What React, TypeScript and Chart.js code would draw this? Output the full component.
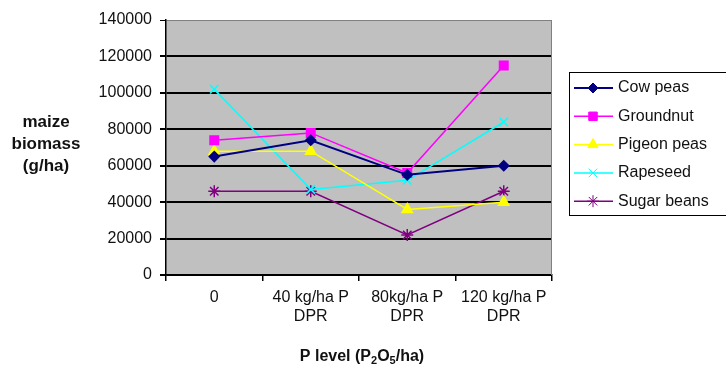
import React, { useEffect, useRef } from "react";
import { Chart, registerables } from "chart.js";
import { drawPoint } from "chart.js/helpers";

Chart.register(...registerables);

const categories: (string | string[])[] = ["0", ["40 kg/ha P", "DPR"], ["80kg/ha P", "DPR"], ["120 kg/ha P", "DPR"]];
const cowPeas = [65000, 74000, 55000, 60000];
const groundnut = [74000, 78000, 56000, 115000];
const pigeonPeas = [68000, 68000, 36000, 40000];
const rapeseed = [102000, 47000, 52000, 84000];
const sugarBeans = [46000, 46000, 22000, 46000];
const yTicks = [0, 20000, 40000, 60000, 80000, 100000, 120000, 140000];
const yTitleLines = ["maize", "biomass", "(g/ha)"];

const FONT = "'Liberation Sans', Arial, sans-serif";

const chartPlugin = {
  id: "decor",
  beforeDraw(chart: any) {
    const { ctx, chartArea: a } = chart;
    ctx.save();
    ctx.fillStyle = "#c0c0c0";
    ctx.fillRect(a.left, a.top, a.right - a.left, a.bottom - a.top);
    ctx.restore();
  },
  afterDraw(chart: any) {
    const { ctx, chartArea: a } = chart;
    ctx.save();
    // right plot border
    ctx.strokeStyle = "#808080";
    ctx.lineWidth = 1;
    ctx.beginPath();
    ctx.moveTo(a.right - 0.5, a.top);
    ctx.lineTo(a.right - 0.5, a.bottom);
    ctx.stroke();

    // y title
    ctx.fillStyle = "#111";
    ctx.font = `bold 17px ${FONT}`;
    ctx.textAlign = "center";
    ctx.textBaseline = "middle";
    yTitleLines.forEach((l, i) => ctx.fillText(l, 46, 122 + i * 22));

    // x title with subscripts
    const parts: [string, boolean][] = [["P level (P", false], ["2", true], ["O", false], ["5", true], ["/ha)", false]];
    const big = `bold 16px ${FONT}`;
    const small = `bold 11px ${FONT}`;
    let total = 0;
    parts.forEach(([t, s]) => { ctx.font = s ? small : big; total += ctx.measureText(t).width; });
    let x = 362 - total / 2;
    ctx.textAlign = "left";
    ctx.textBaseline = "alphabetic";
    parts.forEach(([t, s]) => {
      ctx.font = s ? small : big;
      ctx.fillText(t, x, s ? 364 : 361);
      x += ctx.measureText(t).width;
    });

    // legend
    const lx = 569.5, ly = 72.5;
    ctx.fillStyle = "#fff";
    ctx.fillRect(lx, ly, 200, 143);
    ctx.strokeStyle = "#000";
    ctx.lineWidth = 1;
    ctx.strokeRect(lx, ly, 200, 143);
    chart.data.datasets.forEach((ds: any, i: number) => {
      const y = 88 + i * 28.3;
      ctx.strokeStyle = ds.borderColor;
      ctx.lineWidth = ds.borderWidth;
      ctx.beginPath();
      ctx.moveTo(574, y);
      ctx.lineTo(613, y);
      ctx.stroke();
      ctx.fillStyle = ds.pointBackgroundColor;
      ctx.strokeStyle = ds.pointBorderColor;
      ctx.lineWidth = 1;
      drawPoint(ctx, { pointStyle: ds.pointStyle, radius: ds.pointRadius, rotation: 0, borderWidth: 1.5 } as any, 593, y);
      ctx.fillStyle = "#111";
      ctx.font = `16px ${FONT}`;
      ctx.textAlign = "left";
      ctx.textBaseline = "middle";
      ctx.fillText(ds.label, 618, y);
    });
    ctx.restore();
  },
};

function mk(label: string, data: number[], color: string, style: string, radius: number, width = 1.5) {
  return {
    label,
    data,
    borderColor: color,
    backgroundColor: color,
    pointBackgroundColor: color,
    pointBorderColor: color,
    pointStyle: style,
    pointRadius: radius,
    pointBorderWidth: 1.5,
    borderWidth: width,
    tension: 0,
  };
}

export default function App() {
  const ref = useRef<HTMLCanvasElement>(null);
  useEffect(() => {
    const chart = new Chart(ref.current!, {
      type: "line",
      data: {
        labels: categories,
        datasets: [
          mk("Cow peas", cowPeas, "#000080", "rectRot", 5, 2),
          mk("Groundnut", groundnut, "#ff00ff", "rect", 6),
          mk("Pigeon peas", pigeonPeas, "#ffff00", "triangle", 6),
          mk("Rapeseed", rapeseed, "#00ffff", "crossRot", 6),
          mk("Sugar beans", sugarBeans, "#800080", "star", 6),
        ] as any,
      },
      options: {
        responsive: false,
        animation: false,
        layout: { padding: { top: 20, right: 174, left: 0, bottom: 0 } },
        plugins: { legend: { display: false }, tooltip: { enabled: false } },
        scales: {
          x: {
            offset: true,
            grid: { offset: true, drawOnChartArea: false, drawTicks: true, tickLength: 6, tickColor: "#000", lineWidth: 1.5 },
            border: { display: true, color: "#000", width: 1.5 },
            ticks: { color: "#111", font: { family: FONT, size: 16, lineHeight: 1.2 }, padding: 7, maxRotation: 0, autoSkip: false },
            afterFit(s: any) { s.height = 95; },
          },
          y: {
            min: 0,
            max: 140000,
            afterBuildTicks(s: any) { s.ticks = yTicks.map((v) => ({ value: v })); },
            grid: {
              color: (c: any) => (c.tick && c.tick.value === 140000 ? "#808080" : "#000"),
              lineWidth: (c: any) => (c.tick && c.tick.value === 140000 ? 1 : 2),
              tickColor: "#000",
              tickLength: 6,
            },
            border: { display: true, color: "#000", width: 1.5 },
            ticks: { color: "#111", font: { family: FONT, size: 16 }, padding: 8, callback: (v: any) => String(v) },
            afterFit(s: any) { s.width = 166; },
          },
        },
      },
      plugins: [chartPlugin],
    });
    return () => chart.destroy();
  }, []);
  return (
    <div style={{ position: "absolute", left: 0, top: 0, width: 726, height: 370, background: "#fff" }}>
      <canvas ref={ref} width={726} height={370} />
    </div>
  );
}
